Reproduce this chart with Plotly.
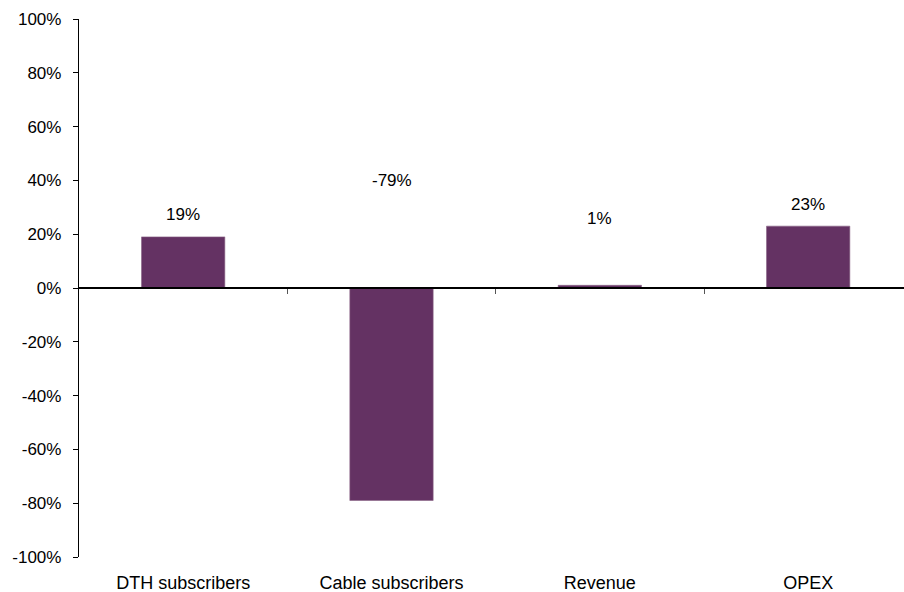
import plotly.graph_objects as go

categories = ["DTH subscribers", "Cable subscribers", "Revenue", "OPEX"]
values = [0.19, -0.79, 0.01, 0.23]
label_text = ["19%", "-79%", "1%", "23%"]
label_y = [0.275, 0.40, 0.26, 0.31]
y_ticks = [-1.0, -0.8, -0.6, -0.4, -0.2, 0.0, 0.2, 0.4, 0.6, 0.8, 1.0]
y_tick_text = ["-100%", "-80%", "-60%", "-40%", "-20%", "0%", "20%", "40%", "60%", "80%", "100%"]

FONT = "Liberation Sans, Arial, sans-serif"
BAR = "#643263"

fig = go.Figure()
fig.add_trace(go.Bar(
    x=list(range(len(categories))), y=values, width=0.4,
    marker=dict(color=BAR, line=dict(color="#8a6487", width=0.6)),
    showlegend=False, hoverinfo="skip",
))

for i, (t, ly) in enumerate(zip(label_text, label_y)):
    fig.add_annotation(x=i, y=ly, text=t, showarrow=False,
                       font=dict(family=FONT, size=17, color="#000"),
                       xref="x", yref="y")

xr = [-0.5, 3.46]
fig.update_layout(
    width=904, height=592,
    margin=dict(l=79, r=0, t=19, b=35),
    plot_bgcolor="white", paper_bgcolor="white",
    font=dict(family=FONT, size=17, color="#000"),
    xaxis=dict(range=xr, tickvals=list(range(len(categories))), ticktext=categories,
               showline=False, showgrid=False, zeroline=False, ticks="",
               ticklabelstandoff=13, tickfont=dict(size=18)),
    xaxis2=dict(overlaying="x", anchor="free", position=0.5, range=xr,
                tickvals=[0.5, 1.5, 2.5], showticklabels=False, ticks="outside",
                ticklen=5, tickcolor="#555", tickwidth=1,
                showline=True, linecolor="#000", linewidth=1.5,
                showgrid=False, zeroline=False, side="bottom"),
    yaxis=dict(range=[-1.0, 1.0], tickvals=y_ticks, ticktext=y_tick_text,
               showline=True, linecolor="#000", linewidth=1.3,
               ticks="outside", ticklen=5, tickcolor="#000",
               showgrid=False, zeroline=False, ticklabelstandoff=8,
               tickfont=dict(size=17)),
)
# dummy trace to activate xaxis2
fig.add_trace(go.Scatter(x=[None], y=[None], xaxis="x2", showlegend=False, hoverinfo="skip"))

fig.write_html("out.html")
